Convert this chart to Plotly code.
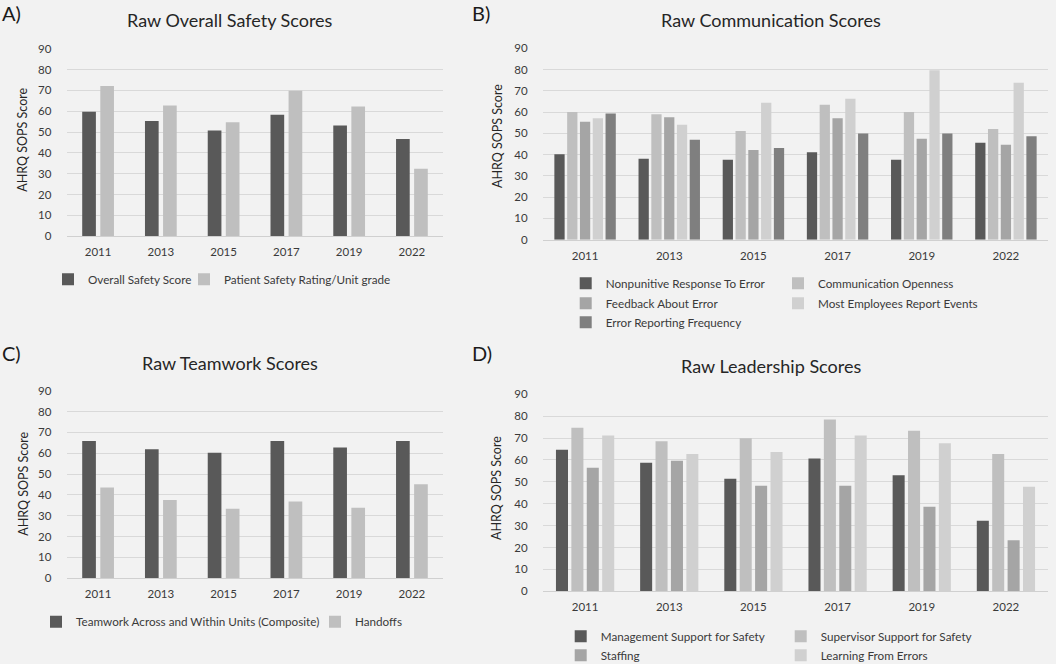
import plotly.graph_objects as go

W, H = 1056, 664

years = ["2011", "2013", "2015", "2017", "2019", "2022"]

# Panel A
overall_safety = [59.8, 55.3, 50.7, 58.3, 53.2, 46.7]
patient_safety_rating = [72.1, 62.8, 54.7, 69.8, 62.3, 32.4]

# Panel B
nonpunitive = [40.2, 38.1, 37.6, 41.1, 37.6, 45.6]
comm_openness = [60.1, 59.0, 51.1, 63.5, 60.1, 52.1]
feedback_error = [55.5, 57.6, 42.2, 57.1, 47.5, 44.7]
most_employees = [57.1, 54.0, 64.4, 66.3, 79.7, 73.8]
error_reporting = [59.4, 47.0, 43.1, 49.9, 49.9, 48.6]

# Panel C
teamwork = [65.9, 61.9, 60.2, 65.9, 62.8, 65.9]
handoffs = [43.6, 37.6, 33.4, 36.9, 33.9, 45.1]

# Panel D
mgmt_support = [64.7, 58.7, 51.4, 60.7, 53.0, 32.2]
supervisor_support = [74.7, 68.5, 69.9, 78.5, 73.3, 62.7]
staffing = [56.4, 59.6, 48.2, 48.2, 38.6, 23.3]
learning_errors = [71.2, 62.7, 63.6, 71.2, 67.6, 47.8]

yticks = [0, 10, 20, 30, 40, 50, 60, 70, 80, 90]

FONT = "Lato"
TXT = "#3a3a3a"


def px_x(v):
    return v / W


def px_y(v):
    return 1 - v / H


fig = go.Figure()

# series entries: name, values, colour, legend text-start x px, legend row y px
panels = [
    dict(ax="", x0=66.7, x1=443.3, yt=48.7, yb=236.3, w=0.218, p=0.288,
         series=[("Overall Safety Score", overall_safety, "#595959", 88, 279.3),
                 ("Patient Safety Rating/Unit grade", patient_safety_rating, "#bfbfbf", 224, 279.3)]),
    dict(ax="2", x0=543, x1=1048, yt=48.3, yb=239.7, w=0.122, p=0.152,
         series=[("Nonpunitive Response To Error", nonpunitive, "#595959", 605.7, 283.3),
                 ("Communication Openness", comm_openness, "#bfbfbf", 818, 283.3),
                 ("Feedback About Error", feedback_error, "#a5a5a5", 605.7, 303.3),
                 ("Most Employees Report Events", most_employees, "#d0d0d0", 818, 303.3),
                 ("Error Reporting Frequency", error_reporting, "#7f7f7f", 605.7, 322.3)]),
    dict(ax="3", x0=66.7, x1=443.3, yt=390.7, yb=578.3, w=0.218, p=0.288,
         series=[("Teamwork Across and Within Units (Composite)", teamwork, "#595959", 76, 621.7),
                 ("Handoffs", handoffs, "#bfbfbf", 355, 621.7)]),
    dict(ax="4", x0=543, x1=1048, yt=394.3, yb=591.3, w=0.143, p=0.183,
         series=[("Management Support for Safety", mgmt_support, "#595959", 600.7, 636.3),
                 ("Supervisor Support for Safety", supervisor_support, "#bfbfbf", 820.7, 636.3),
                 ("Staffing", staffing, "#a5a5a5", 600.7, 655.3),
                 ("Learning From Errors", learning_errors, "#d0d0d0", 820.7, 655.3)]),
]

leg_common = dict(orientation="h", bgcolor="rgba(0,0,0,0)", borderwidth=0,
                  font=dict(family=FONT, size=11.7, color=TXT),
                  traceorder="normal", xref="container", yref="container",
                  itemwidth=30, xanchor="left", yanchor="middle",
                  itemclick=False, itemdoubleclick=False, visible=True)

layout = {}
leg_i = 0
for pnl in panels:
    n = len(pnl["series"])
    total = n * pnl["p"] - (pnl["p"] - pnl["w"])
    start = -total / 2
    for i, (name, vals, col, lx, ly) in enumerate(pnl["series"]):
        leg_i += 1
        lid = "legend" if leg_i == 1 else "legend%d" % leg_i
        layout[lid] = dict(leg_common, x=px_x(lx - 40), y=px_y(ly))
        fig.add_trace(go.Bar(
            x=years, y=vals, name=name, showlegend=True,
            marker=dict(color=col, line=dict(width=0)),
            width=pnl["w"], offset=start + i * pnl["p"],
            xaxis="x" + pnl["ax"], yaxis="y" + pnl["ax"],
            legend=lid, hoverinfo="x+y+name",
        ))
    xa = "xaxis" + pnl["ax"]
    ya = "yaxis" + pnl["ax"]
    layout[xa] = dict(
        domain=[px_x(pnl["x0"]), px_x(pnl["x1"])],
        anchor="y" + pnl["ax"], type="category",
        showgrid=False, showline=True, linecolor="#d0d0d0", linewidth=1,
        ticks="outside", ticklen=5, tickcolor="rgba(0,0,0,0)",
        tickfont=dict(family=FONT, size=11.5, color=TXT),
        fixedrange=True,
    )
    layout[ya] = dict(
        domain=[px_y(pnl["yb"]), px_y(pnl["yt"])],
        anchor="x" + pnl["ax"], range=[0, 90], tickvals=yticks,
        showgrid=True, gridcolor="#d9d9d9", gridwidth=1,
        zeroline=False, showline=False,
        ticks="outside", ticklen=12, tickcolor="rgba(0,0,0,0)",
        tickfont=dict(family=FONT, size=11.5, color=TXT),
        fixedrange=True,
    )

annotations = []
titles = [("Raw Overall Safety Scores", 230, 20),
          ("Raw Communication Scores", 770.5, 20),
          ("Raw Teamwork Scores", 230, 362.7),
          ("Raw Leadership Scores", 770.5, 366)]
for t, x, y in titles:
    annotations.append(dict(text=t, x=px_x(x), y=px_y(y), xref="paper", yref="paper",
                            showarrow=False, xanchor="center", yanchor="middle",
                            font=dict(family=FONT, size=18, color="#262626")))

letters = [("A)", 0, 13), ("B)", 470, 13), ("C)", 0, 353), ("D)", 470, 353)]
for t, x, y in letters:
    annotations.append(dict(text=t, x=px_x(x), y=px_y(y), xref="paper", yref="paper",
                            showarrow=False, xanchor="left", yanchor="middle",
                            font=dict(family=FONT, size=20, color="#1a1a1a")))

ylabels = [(22.7, 140), (497, 136), (22.7, 484), (496, 488)]
for x, y in ylabels:
    annotations.append(dict(text="AHRQ SOPS Score", x=px_x(x), y=px_y(y),
                            xref="paper", yref="paper", textangle=-90,
                            showarrow=False, xanchor="center", yanchor="middle",
                            font=dict(family=FONT, size=12.5, color="#262626")))

fig.update_layout(
    width=W, height=H,
    margin=dict(l=0, r=0, t=0, b=0, autoexpand=False),
    paper_bgcolor="#f2f2f2", plot_bgcolor="#f2f2f2",
    barmode="overlay", showlegend=True,
    annotations=annotations,
    **layout,
)

fig.write_html("out.html",
               config={"displayModeBar": False},
               post_script="document.body.style.margin='0';"
                           "document.body.style.background='#f2f2f2';")
